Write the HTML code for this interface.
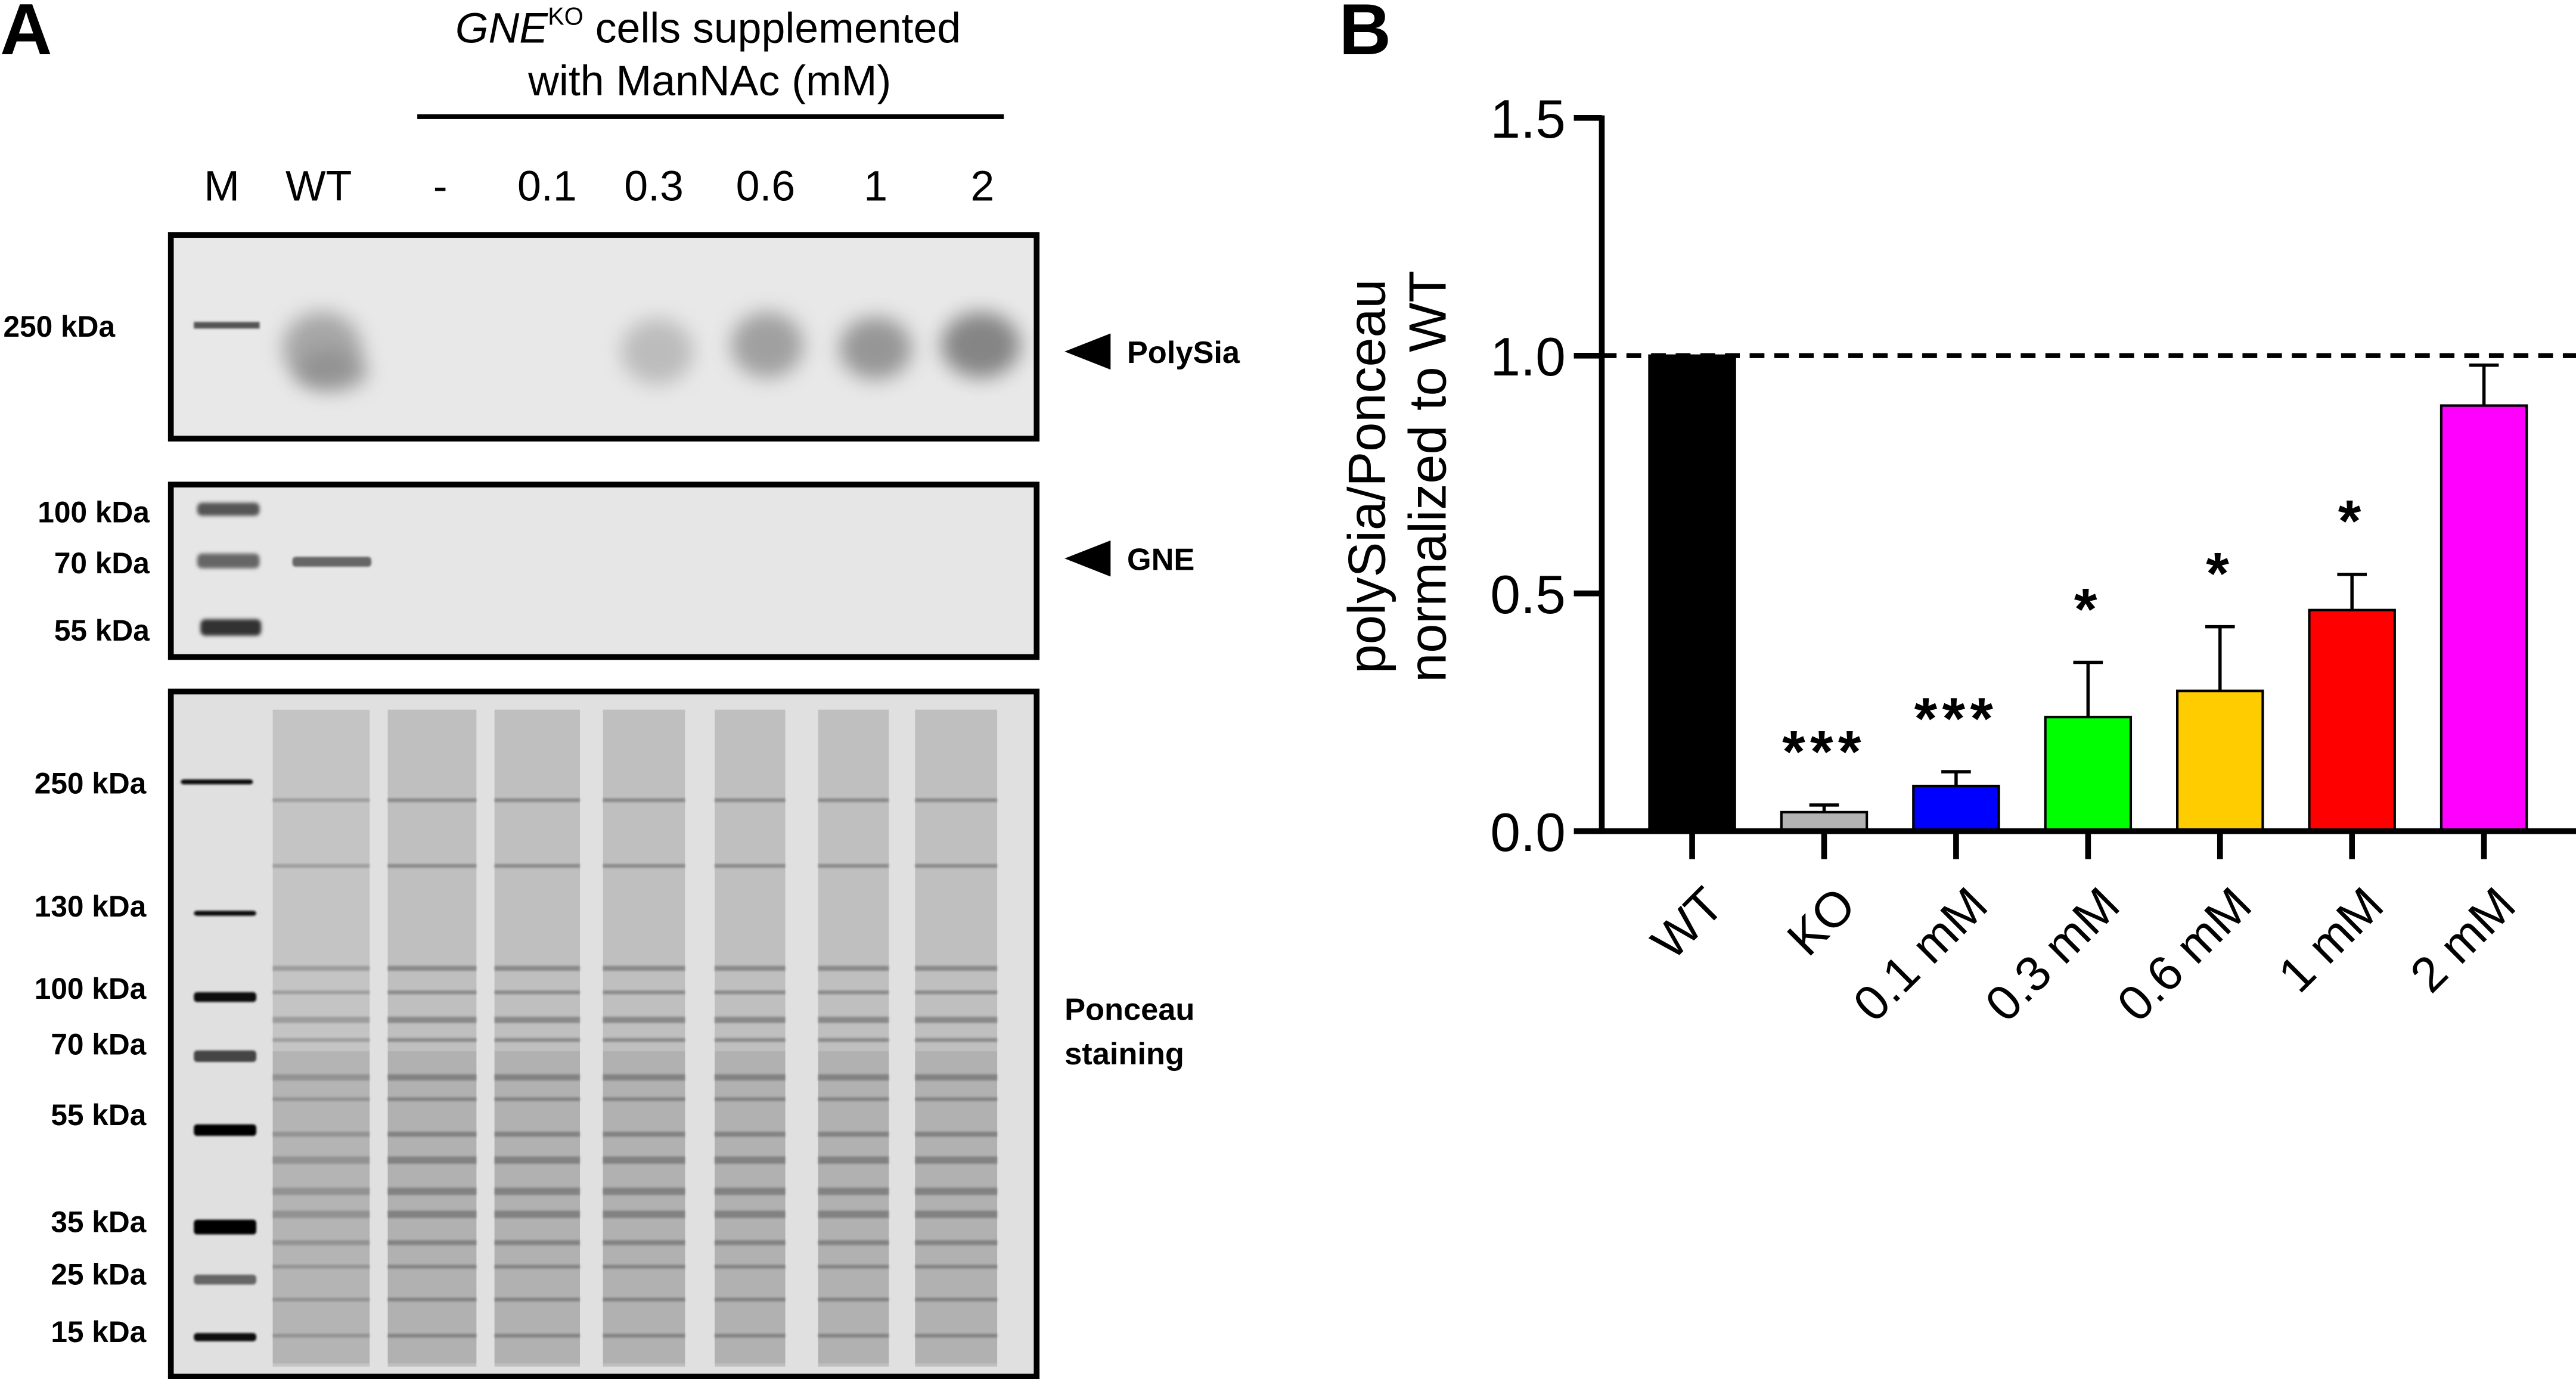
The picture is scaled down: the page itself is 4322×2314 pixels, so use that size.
<!DOCTYPE html>
<html><head><meta charset="utf-8"><style>
html,body{margin:0;padding:0;background:#fff;}
svg{display:block;}
text{font-family:"Liberation Sans",Arial,sans-serif;}
</style></head><body>
<svg id="fig" width="4322" height="2314" viewBox="0 0 1568 839.5" preserveAspectRatio="none">
<defs>
<filter id="b2" x="-50%" y="-50%" width="200%" height="200%"><feGaussianBlur stdDeviation="1.2"/></filter>
<filter id="b6" x="-50%" y="-50%" width="200%" height="200%"><feGaussianBlur stdDeviation="6"/></filter>
<filter id="b1" x="-50%" y="-50%" width="200%" height="200%"><feGaussianBlur stdDeviation="0.7"/></filter>
</defs>
<!-- PANEL A -->
<text x="0" y="33" font-size="44" font-weight="bold">A</text>
<text x="431" y="26" font-size="26" text-anchor="middle"><tspan font-style="italic">GNE</tspan><tspan font-size="15" dy="-11">KO</tspan><tspan dy="11"> cells supplemented</tspan></text>
<text x="432" y="58" font-size="26" text-anchor="middle">with ManNAc (mM)</text>
<line x1="254" y1="71" x2="611" y2="71" stroke="#000" stroke-width="3"/>
<g font-size="26" text-anchor="middle">
<text x="135" y="122">M</text><text x="194" y="122">WT</text><text x="268" y="122">-</text>
<text x="333" y="122">0.1</text><text x="398" y="122">0.3</text><text x="466" y="122">0.6</text>
<text x="533" y="122">1</text><text x="598" y="122">2</text>
</g>
<!-- polysia blot -->
<g>
<rect x="104" y="143" width="527" height="124" fill="#e8e8e8"/>
<rect x="118" y="196" width="40" height="4" fill="#555" filter="url(#b1)"/>
<ellipse cx="196" cy="212" rx="24" ry="22" fill="#8a8a8a" opacity="0.7" filter="url(#b6)"/>
<ellipse cx="202" cy="226" rx="22" ry="12" fill="#888" opacity="0.7" filter="url(#b6)"/>
<ellipse cx="400" cy="214" rx="22" ry="20" fill="#999" opacity="0.55" filter="url(#b6)"/>
<ellipse cx="467" cy="210" rx="22" ry="20" fill="#888" opacity="0.75" filter="url(#b6)"/>
<ellipse cx="533" cy="212" rx="22" ry="19" fill="#888" opacity="0.85" filter="url(#b6)"/>
<ellipse cx="597" cy="210" rx="24" ry="20" fill="#808080" opacity="0.95" filter="url(#b6)"/>
<rect x="104" y="143" width="527" height="124" fill="none" stroke="#000" stroke-width="3.5"/>
</g>
<g font-size="18" font-weight="bold"><text x="2" y="205">250 kDa</text></g>
<polygon points="648,214 676,203 676,225" fill="#000"/>
<text x="686" y="221" font-size="19" font-weight="bold">PolySia</text>
<!-- GNE blot -->
<g>
<rect x="104" y="295" width="527" height="105" fill="#e6e6e6"/>
<rect x="120" y="306" width="38" height="8" rx="3" fill="#555" filter="url(#b2)"/>
<rect x="120" y="337" width="38" height="9" rx="3" fill="#666" filter="url(#b2)"/>
<rect x="122" y="377" width="37" height="10" rx="3" fill="#333" filter="url(#b2)"/>
<rect x="178" y="339" width="48" height="6" rx="2" fill="#666" filter="url(#b1)"/>
<rect x="104" y="295" width="527" height="105" fill="none" stroke="#000" stroke-width="3.5"/>
</g>
<g font-size="18" font-weight="bold" text-anchor="end">
<text x="91" y="318">100 kDa</text><text x="91" y="349">70 kDa</text><text x="91" y="390">55 kDa</text></g>
<polygon points="648,340 676,329 676,351" fill="#000"/>
<text x="686" y="347" font-size="19" font-weight="bold">GNE</text>
<!-- Ponceau -->
<g id="ponceau">
<rect x="104" y="421" width="527" height="417" fill="#e0e0e0"/>
</g>
<g font-size="18" font-weight="bold" text-anchor="end">
<text x="89" y="483">250 kDa</text><text x="89" y="558">130 kDa</text><text x="89" y="608">100 kDa</text>
<text x="89" y="642">70 kDa</text><text x="89" y="685">55 kDa</text><text x="89" y="750">35 kDa</text>
<text x="89" y="782">25 kDa</text><text x="89" y="817">15 kDa</text></g>
<text x="648" y="621" font-size="19" font-weight="bold"><tspan x="648">Ponceau</tspan><tspan x="648" dy="27">staining</tspan></text>
<!-- PANEL B -->
<text x="815" y="33" font-size="44" font-weight="bold">B</text>
<g id="chart"></g>
</svg>
<script>
// Ponceau decoration
const P = document.getElementById('ponceau');
const NS = 'http://www.w3.org/2000/svg';
const laneX = [[166,225],[236,290],[301,353],[367,417],[435,478],[498,541],[557,607]];
const bandY = [486,526,588,603,619,632,654,668,689,704,723,737,755,770,790,812];
const bandW = [1.5,1.5,2,1.5,2.5,1.5,2.5,1.5,2,3,3,3,2,1.5,1.5,1.5];
laneX.forEach((l,i)=>{
  const r=document.createElementNS(NS,'rect');
  r.setAttribute('x',l[0]);r.setAttribute('y',432);r.setAttribute('width',l[1]-l[0]);r.setAttribute('height',400);
  r.setAttribute('fill', i===0?'#c4c4c4':'#bfbfbf');
  
  
  P.appendChild(r);
  const g=document.createElementNS(NS,'rect');
  g.setAttribute('x',l[0]);g.setAttribute('y',640);g.setAttribute('width',l[1]-l[0]);g.setAttribute('height',190);
  g.setAttribute('fill','#999');g.setAttribute('opacity','0.35');
  
  
  P.appendChild(g);
  bandY.forEach((y,j)=>{
    const b=document.createElementNS(NS,'rect');
    b.setAttribute('x',l[0]);b.setAttribute('y',y);b.setAttribute('width',l[1]-l[0]);b.setAttribute('height',bandW[j]*1.5);
    b.setAttribute('fill','#555');b.setAttribute('opacity', i===0?'0.35':'0.5');b.setAttribute('filter','url(#b1)');
    
    
    P.appendChild(b);
  });
});
const mkY=[476,556,607,643,688,747,779,814], mkH=[3,3,6,7,7,9,6,5], mkC=['#111','#111','#111','#444','#000','#000','#666','#111'];
mkY.forEach((y,j)=>{
  const b=document.createElementNS(NS,'rect');
  b.setAttribute('x',j===0?110:118);b.setAttribute('y',y-mkH[j]/2);b.setAttribute('width',j===0?44:38);b.setAttribute('height',mkH[j]);b.setAttribute('rx',2);
  b.setAttribute('fill',mkC[j]);b.setAttribute('filter','url(#b1)');
  
  
  P.appendChild(b);
});
const fr=document.createElementNS(NS,'rect');
fr.setAttribute('x',104);fr.setAttribute('y',421);fr.setAttribute('width',527);fr.setAttribute('height',417);
fr.setAttribute('fill','none');fr.setAttribute('stroke','#000');fr.setAttribute('stroke-width',3.5);


P.appendChild(fr);
</script>
<script>
// Chart data
const categories = ['WT','KO','0.1 mM','0.3 mM','0.6 mM','1 mM','2 mM'];
const values = [1.0, 0.04, 0.095, 0.24, 0.295, 0.465, 0.895];
const errors = [0, 0.015, 0.03, 0.115, 0.135, 0.075, 0.085];
const stars = ['', '***', '***', '*', '*', '*', ''];
const colors = ['#000000','#b3b3b3','#0000ff','#00ff00','#ffcc00','#ff0000','#ff00ff'];
const yTicks = [0.0, 0.5, 1.0, 1.5];
const yTickLabels = ['0.0','0.5','1.0','1.5'];
const refLine = 1.0;

const C = document.getElementById('chart');
const y0=506, yPerUnit=289.5, axisX=975, x0=1030, xStep=80.33, barW=52;
const ys = v => y0 - v*yPerUnit;
const xs = i => x0 + i*xStep;
function el(tag, attrs, parent){const e=document.createElementNS(NS,tag);for(const k in attrs)e.setAttribute(k,attrs[k]);(parent||C).appendChild(e);return e;}

values.forEach((v,i)=>{
  const r=el('rect',{x:xs(i)-barW/2,y:ys(v),width:barW,height:y0-ys(v),fill:colors[i],stroke:'#000','stroke-width':1.5});
  
  
  if(errors[i]>0){
    const ln=el('path',{d:`M${xs(i)} ${ys(v)} V${ys(v+errors[i])} M${xs(i)-9} ${ys(v+errors[i])} H${xs(i)+9}`,stroke:'#000','stroke-width':2,fill:'none'});
    
    
  }
  if(stars[i]){
    const t=el('text',{x:xs(i),y:ys(v+errors[i])-20,'font-size':36,'font-weight':'bold','text-anchor':'middle','letter-spacing':'3'});
    t.textContent=stars[i];
    
    
  }
  const tk=el('line',{x1:xs(i),y1:y0,x2:xs(i),y2:y0+17,stroke:'#000','stroke-width':3.5});
  
  
  const lx=xs(i)+6, ly=y0+32;
  const xt=el('text',{x:lx,y:ly,'font-size':30,'text-anchor':'end',transform:`rotate(-45 ${lx} ${ly})`,dy:'0.7em'});
  xt.textContent=categories[i];
  
  
});
const dl=el('line',{x1:axisX,y1:ys(refLine),x2:1568,y2:ys(refLine),stroke:'#000','stroke-width':3,'stroke-dasharray':'9 6'});


const ya=el('line',{x1:axisX,y1:ys(1.5)-1.5,x2:axisX,y2:y0+1.5,stroke:'#000','stroke-width':3.5});


const xa=el('line',{x1:axisX-1.5,y1:y0,x2:1568,y2:y0,stroke:'#000','stroke-width':3.5});


yTicks.forEach((t,i)=>{
  const l=el('line',{x1:axisX-17,y1:ys(t),x2:axisX,y2:ys(t),stroke:'#000','stroke-width':3.5});
  
  
  const tx=el('text',{x:axisX-22,y:ys(t)+12,'font-size':33,'text-anchor':'end'});
  tx.textContent=yTickLabels[i];
  
  
});
const yt=el('text',{x:0,y:0,'font-size':32,'text-anchor':'middle',transform:'translate(843 290) rotate(-90)'});


const s1=el('tspan',{x:0,dy:0},yt); s1.textContent='polySia/Ponceau';
const s2=el('tspan',{x:0,dy:37},yt); s2.textContent='normalized to WT';
</script>
</body></html>
